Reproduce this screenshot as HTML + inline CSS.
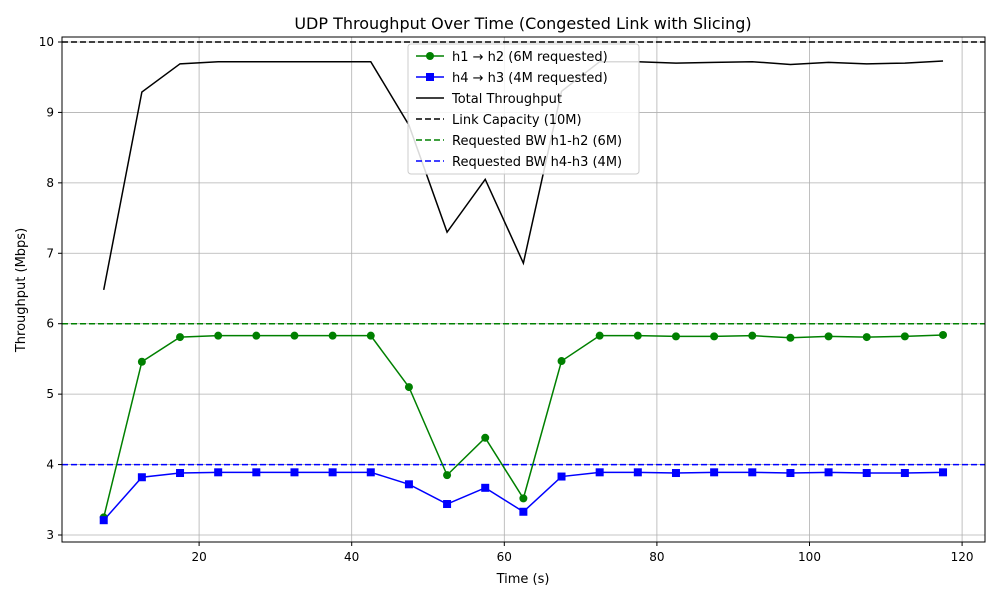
<!DOCTYPE html>
<html><head><meta charset="utf-8"><style>
body{margin:0;background:#fff;font-family:"DejaVu Sans","Liberation Sans",sans-serif}
svg text{font-family:"DejaVu Sans","Liberation Sans",sans-serif}
</style></head><body>
<svg id="chart" width="1000" height="600" xmlns="http://www.w3.org/2000/svg"></svg>
<script>
const times=[7.5,12.5,17.5,22.5,27.5,32.5,37.5,42.5,47.5,52.5,57.5,62.5,67.5,72.5,77.5,82.5,87.5,92.5,97.5,102.5,107.5,112.5,117.5];
const h1h2=[3.25,5.46,5.81,5.83,5.83,5.83,5.83,5.83,5.10,3.85,4.38,3.52,5.47,5.83,5.83,5.82,5.82,5.83,5.80,5.82,5.81,5.82,5.84];
const h4h3=[3.21,3.82,3.88,3.89,3.89,3.89,3.89,3.89,3.72,3.44,3.67,3.33,3.83,3.89,3.89,3.88,3.89,3.89,3.88,3.89,3.88,3.88,3.89];
const total=[6.48,9.29,9.69,9.72,9.72,9.72,9.72,9.72,8.82,7.30,8.05,6.86,9.30,9.72,9.72,9.70,9.71,9.72,9.68,9.71,9.69,9.70,9.73];
const xTicks=[20,40,60,80,100,120];
const yTicks=[3,4,5,6,7,8,9,10];
const capacity=10, req1=6, req2=4;
const L=62,R=985,T=37,B=542;
const xs=v=>46.5+(v)*7.63;
const ys=v=>535-(v-3)*70.43;
const svg=document.getElementById('chart');
const NS='http://www.w3.org/2000/svg';
function mk(tag,attrs,parent){const e=document.createElementNS(NS,tag);for(const k in attrs)e.setAttribute(k,attrs[k]);(parent||svg).appendChild(e);return e;}
const t=mk('text',{x:523,y:29,'text-anchor':'middle','font-size':16,fill:'#000'});t.textContent='UDP Throughput Over Time (Congested Link with Slicing)';


const grid=mk('g',{});


xTicks.forEach(v=>{const x=xs(v);mk('line',{x1:x,x2:x,y1:T,y2:B,stroke:'#b0b0b0','stroke-width':0.8},grid);
 mk('line',{x1:x,x2:x,y1:B,y2:B+4,stroke:'#000'});
 const tx=mk('text',{x:x,y:B+19,'text-anchor':'middle','font-size':12});tx.textContent=v;
 
 });
yTicks.forEach(v=>{const y=ys(v);mk('line',{x1:L,x2:R,y1:y,y2:y,stroke:'#b0b0b0','stroke-width':0.8},grid);
 mk('line',{x1:L-4,x2:L,y1:y,y2:y,stroke:'#000'});
 const tx=mk('text',{x:L-8,y:y+4,'text-anchor':'end','font-size':12});tx.textContent=v;
 
 });
function hline(v,c,name){const l=mk('line',{x1:L,x2:R,y1:ys(v),y2:ys(v),stroke:c,'stroke-width':1.5,'stroke-dasharray':'6,3'});
 
 }
hline(capacity,'#000','link-capacity-line');hline(req1,'green','requested-bw-h1h2-line');hline(req2,'blue','requested-bw-h4h3-line');
function series(vals,c,name){const pts=vals.map((v,i)=>xs(times[i])+','+ys(v)).join(' ');
 const p=mk('polyline',{points:pts,fill:'none',stroke:c,'stroke-width':1.5});
 
 return p;}
series(total,'#000','total-throughput-line');
series(h1h2,'green','h1-h2-line');
series(h4h3,'blue','h4-h3-line');
h1h2.forEach((v,i)=>{const c=mk('circle',{cx:xs(times[i]),cy:ys(v),r:4,fill:'green'});
 
 });
h4h3.forEach((v,i)=>{const r=mk('rect',{x:xs(times[i])-4,y:ys(v)-4,width:8,height:8,fill:'blue'});
 
 });
mk('rect',{x:L,y:T,width:R-L,height:B-T,fill:'none',stroke:'#000','stroke-width':1});
const xl=mk('text',{x:523,y:583,'text-anchor':'middle','font-size':13});xl.textContent='Time (s)';


const yl=mk('text',{x:25,y:290,'text-anchor':'middle','font-size':13,transform:'rotate(-90 25 290)'});yl.textContent='Throughput (Mbps)';


const lg=mk('g',{});


mk('rect',{x:408,y:44,width:231,height:130,fill:'#fff','fill-opacity':0.85,stroke:'#ccc',rx:3},lg);
const items=[['h1 → h2 (6M requested)','green','o',false],['h4 → h3 (4M requested)','blue','s',false],['Total Throughput','#000','',false],['Link Capacity (10M)','#000','',true],['Requested BW h1-h2 (6M)','green','',true],['Requested BW h4-h3 (4M)','blue','',true]];
items.forEach((it,i)=>{const y=56+i*21;
 const g=mk('g',{},lg);
 
 
 const a={x1:416,x2:444,y1:y,y2:y,stroke:it[1],'stroke-width':1.5};if(it[3])a['stroke-dasharray']='6,3';mk('line',a,g);
 if(it[2]=='o')mk('circle',{cx:430,cy:y,r:4,fill:it[1]},g);
 if(it[2]=='s')mk('rect',{x:426,y:y-4,width:8,height:8,fill:it[1]},g);
 const tx=mk('text',{x:452,y:y+5,'font-size':13},g);tx.textContent=it[0];});
</script>
</body></html>
